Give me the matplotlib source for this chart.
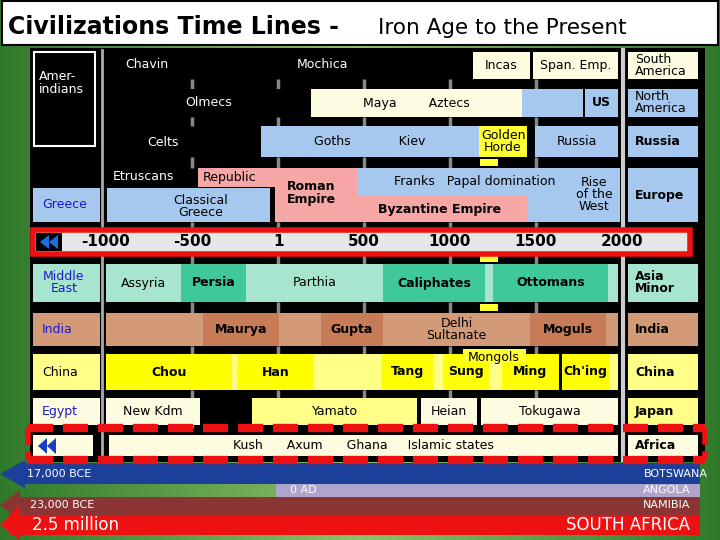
import matplotlib
matplotlib.use("Agg")
import matplotlib.pyplot as plt
from matplotlib.patches import Rectangle, Polygon
import numpy as np

# ---------------- data ----------------
tick_years = [-1000, -500, 1, 500, 1000, 1500, 2000]
tick_labels = ["-1000", "-500", "1", "500", "1000", "1500", "2000"]

# each band: (label, start year, end year, colour, bold)
south_america = [("", -1000, 1134, "#000000", False), ("Incas", 1134, 1465, "#fdfbe0", False),
                 ("Span. Emp.", 1483, 1977, "#fdfbe0", False)]
north_america = [("Olmecs", -1000, 192, "#000000", False), ("Maya        Aztecs", 192, 1419, "#fdfbe0", False),
                 ("", 1419, 1773, "#a7c8ee", False), ("US", 1785, 1977, "#a7c8ee", True)]
russia = [("Goths            Kiev", -99, 1169, "#a7c8ee", False), ("Golden\nHorde", 1169, 1448, "#ffff33", False),
          ("Russia", 1495, 1977, "#a7c8ee", False)]
middle_east = [("Assyria", -1000, -565, "#a8e5cf", False), ("Persia", -565, -186, "#3fc89c", True),
               ("Parthia", -186, 610, "#a8e5cf", False), ("Caliphates", 610, 1203, "#3fc89c", True),
               ("", 1203, 1250, "#a8e5cf", False), ("Ottomans", 1250, 1919, "#3fc89c", True),
               ("", 1919, 1977, "#a8e5cf", False)]
india = [("", -1000, -436, "#d39a78", False), ("Maurya", -436, 6, "#c77b56", True),
         ("", 6, 250, "#d39a78", False), ("Gupta", 250, 610, "#c77b56", True),
         ("Delhi\nSultanate", 610, 1465, "#d39a78", False), ("Moguls", 1465, 1907, "#c77b56", True),
         ("", 1907, 1977, "#d39a78", False)]
china = [("Chou", -1000, -267, "#ffff00", True), ("", -267, -238, "#ffff88", False),
         ("Han", -238, 209, "#ffff00", True), ("", 209, 600, "#ffff88", False),
         ("Tang", 600, 901, "#ffff00", True), ("", 901, 960, "#ffff88", False),
         ("Sung", 960, 1227, "#ffff00", True), ("", 1227, 1302, "#ffff88", False),
         ("Ming", 1302, 1634, "#ffff00", True), ("Ch'ing", 1651, 1924, "#ffff00", True),
         ("", 1924, 1977, "#ffff88", False)]
japan = [("New Kdm", -1000, -453, "#fdfbe0", False), ("Yamato", -151, 808, "#ffff88", False),
         ("Heian", 831, 1157, "#fdfbe0", False), ("Tokugawa", 1180, 1977, "#fdfbe0", False)]
africa = [("Kush      Axum      Ghana     Islamic states", -980, 1977, "#fdfbe0", False)]

bottom_labels = [("17,000 BCE", "BOTSWANA"), ("0 AD", "ANGOLA"), ("23,000 BCE", "NAMIBIA"),
                 ("2.5 million", "SOUTH AFRICA")]

# ---------------- layout ----------------
def X(px):  # pixel -> year coordinate
    return (px - 278) / 0.172

fig = plt.figure(figsize=(7.2, 5.4), dpi=100)
ax = fig.add_axes([0, 0, 1, 1])
ax.set_xlim(X(0), X(720))
ax.set_ylim(540, 0)
ax.axis("off")

grad = np.linspace(0, 1, 256).reshape(1, -1)
ax.imshow(np.abs(grad - 0.5) * 2, extent=[X(0), X(720), 540, 0], aspect="auto",
          cmap=matplotlib.colors.LinearSegmentedColormap.from_list("g", ["#8fc06a", "#2f7a2a"]), zorder=0)

def rect(x0, x1, y0, y1, fc, ec="none", lw=0, z=2, **kw):
    ax.add_patch(Rectangle((x0, y0), x1 - x0, y1 - y0, fc=fc, ec=ec, lw=lw, zorder=z, **kw))

# title
rect(X(2), X(718), 1, 45, "white", "black", 1.5, z=3)
ax.text(X(8), 27, "Civilizations Time Lines - ", fontsize=17, fontweight="bold", va="center", zorder=4)
ax.text(X(378), 28, "Iron Age to the Present", fontsize=15.5, va="center", zorder=4)

# main black panel
rect(X(30), X(705), 48, 462, "black", z=1)
gaps = [(79, 89), (117, 126), (157, 168), (222, 230), (254, 264), (302, 313), (346, 354), (390, 398), (425, 428)]
for yr in [-500, 1, 500, 1000, 1500]:
    for g0, g1 in gaps:
        ax.plot([yr, yr], [g0, g1], color="#888888", lw=2.5, zorder=1.5, solid_capstyle="butt")
ax.plot([X(102)] * 2, [50, 460], color="#aaaaaa", lw=2, zorder=1.5)
ax.plot([X(623)] * 2, [50, 460], color="#cccccc", lw=3, zorder=1.5)

def row(bands, y0, y1, fs=9):
    for lab, s, e, c, b in bands:
        rect(s, e, y0, y1, c)
        if lab:
            tc = "white" if c == "#000000" else "black"
            ax.text((s + e) / 2, (y0 + y1) / 2, lab, ha="center", va="center", fontsize=fs,
                    color=tc, fontweight="bold" if b else "normal", zorder=4, linespacing=0.9)

row(south_america, 52, 79)
ax.text(X(147), 65, "Chavin", color="white", fontsize=9, ha="center", va="center", zorder=4)
ax.text(X(323), 65, "Mochica", color="white", fontsize=9, ha="center", va="center", zorder=4)
row(north_america, 89, 117)
row(russia, 126, 157)
row(middle_east, 264, 302)
row(india, 313, 346)
row(china, 354, 390)
row(japan, 398, 425)

# europe block
rect(X(198), X(357), 168, 187, "#f7a6a6")
rect(X(275), X(357), 168, 222, "#f7a6a6")
rect(X(357), X(527), 196, 222, "#f7a6a6")
rect(X(357), X(620), 168, 196, "#a7c8ee")
rect(X(527), X(620), 168, 222, "#a7c8ee")
rect(X(107), X(270), 188, 222, "#a7c8ee")
for t, px, py, b, c in [("Etruscans", 143, 177, False, "white"), ("Republic", 230, 177, False, "black"),
                        ("Roman\nEmpire", 311, 193, True, "black"), ("Byzantine Empire", 440, 210, True, "black"),
                        ("Franks   Papal domination", 475, 181, False, "black"),
                        ("Rise\nof the\nWest", 594, 194, False, "black"), ("Classical\nGreece", 201, 206, False, "black"),
                        ("Celts", 163, 142, False, "white")]:
    ax.text(X(px), py, t, ha="center", va="center", fontsize=9, color=c,
            fontweight="bold" if b else "normal", zorder=4, linespacing=0.9)
rect(X(480), X(498), 159, 166, "#ffff33")
rect(X(480), X(498), 255, 262, "#ffff33")
rect(X(480), X(498), 304, 311, "#ffff33")
rect(X(463), X(526), 349, 362, "#ffff33")
ax.text(X(494), 357, "Mongols", ha="center", va="center", fontsize=9, zorder=4)

# right-hand labels
for t, y0, y1, c, b in [("South\nAmerica", 52, 79, "#fdfbe0", False), ("North\nAmerica", 89, 117, "#a7c8ee", False),
                        ("Russia", 126, 157, "#a7c8ee", True), ("Europe", 168, 222, "#a7c8ee", True),
                        ("Asia\nMinor", 264, 302, "#a8e5cf", True), ("India", 313, 346, "#d39a78", True),
                        ("China", 354, 390, "#ffff88", True), ("Japan", 398, 425, "#ffff88", True),
                        ("Africa", 435, 456, "#fdfbe0", True)]:
    rect(X(628), X(698), y0, y1, c)
    ax.text(X(635), (y0 + y1) / 2, t, ha="left", va="center", fontsize=9, fontweight="bold" if b else "normal",
            zorder=4, linespacing=0.9)

# left labels
rect(X(34), X(95), 52, 146, "black", "white", 1.5)
ax.text(X(39), 83, "Amer-\nindians", color="white", fontsize=9, va="center", zorder=4, linespacing=1.0)
for t, y0, y1, c in [("Greece", 188, 222, "#a7c8ee"), ("Middle\nEast", 264, 302, "#a8e5cf"),
                     ("India", 313, 346, "#d39a78"), ("China", 354, 390, "#ffff88"),
                     ("Egypt", 398, 425, "#fdfbe0")]:
    rect(X(33), X(100), y0, y1, c)
    ax.text(X(42) if t != "Middle\nEast" else X(64), (y0 + y1) / 2, t, ha="left" if t != "Middle\nEast" else "center",
            va="center", fontsize=9, color="#1a1acc" if t != "China" else "black", zorder=4, linespacing=0.9)

row(africa, 435, 456)
rect(X(33), X(93), 435, 456, "#fdfbe0")
for y in [428, 460]:
    ax.plot([X(28), X(705)], [y, y], color="#ee1111", lw=6, ls=(0, (3, 1.2)), zorder=5)
ax.plot([X(28)] * 2, [428, 460], color="#ee1111", lw=4, ls=(0, (3, 1.2)), zorder=5)
ax.plot([X(705)] * 2, [428, 460], color="#ee1111", lw=4, ls=(0, (3, 1.2)), zorder=5)
for dx in [0, 9]:
    ax.add_patch(Polygon([(X(38 + dx), 446), (X(47 + dx), 438), (X(47 + dx), 454)], fc="#1a3fbf", zorder=6))

# timeline bar
rect(X(33), X(690), 230, 254, "#e6e6e6", "#ee1111", 4, z=5)
for yr, lab in zip(tick_years, tick_labels):
    ax.text(yr, 242, lab, ha="center", va="center", fontsize=11, fontweight="bold", zorder=6)
rect(X(36), X(62), 233, 251, "black", z=6)
for dx in [0, 9]:
    ax.add_patch(Polygon([(X(40 + dx), 242), (X(49 + dx), 235), (X(49 + dx), 249)], fc="#1a6fe0", zorder=7))

# bottom bars
rect(X(20), X(700), 463, 484, "#1c3f9a")
ax.add_patch(Polygon([(X(0), 474), (X(25), 460), (X(25), 488)], fc="#1c3f9a", zorder=2))
rect(X(276), X(700), 484, 497, "#b0a3cc")
rect(X(10), X(700), 497, 515, "#8b3434")
ax.add_patch(Polygon([(X(0), 505), (X(20), 490), (X(20), 520)], fc="#8b3434", zorder=2))
rect(X(10), X(700), 515, 535, "#ee1111")
ax.add_patch(Polygon([(X(0), 525), (X(20), 505), (X(20), 540)], fc="#ee1111", zorder=2))
ys = [474, 490, 505, 525]
lx = [27, 290, 30, 32]
for (l, r), y, x, fs in zip(bottom_labels, ys, lx, [8, 8, 8, 12]):
    ax.text(X(x), y, l, color="white", fontsize=fs, va="center", zorder=4)
    ax.text(X(708 if r == "BOTSWANA" else 690), y, r, color="white", fontsize=fs, va="center", ha="right", zorder=4)

fig.savefig("out.png", dpi=100)
